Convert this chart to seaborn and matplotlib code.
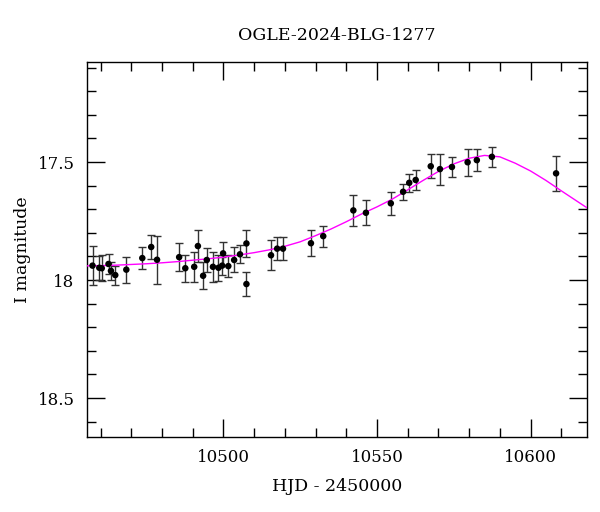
import numpy as np
import pandas as pd
import seaborn as sns
import matplotlib.pyplot as plt
from matplotlib.ticker import MultipleLocator

# observed photometry (HJD - 2450000, I mag, error)
hjd = [10457.4, 10459.6, 10460.4, 10462.6, 10463.4, 10464.8, 10468.4, 10473.6,
       10476.5, 10478.4, 10485.6, 10487.6, 10490.5, 10491.7, 10493.4, 10494.6,
       10496.6, 10498.4, 10499.9, 10499.6, 10501.6, 10503.5, 10505.4, 10507.5,
       10507.5, 10515.5, 10517.5, 10519.4, 10528.5, 10532.5, 10542.3, 10546.4,
       10554.5, 10558.5, 10560.5, 10562.6, 10567.5, 10570.5, 10574.4, 10579.5,
       10582.5, 10587.4, 10608.3]
mag = [17.939, 17.948, 17.950, 17.932, 17.961, 17.979, 17.956, 17.907,
       17.860, 17.914, 17.903, 17.950, 17.944, 17.856, 17.982, 17.915,
       17.944, 17.948, 17.887, 17.939, 17.941, 17.915, 17.891, 17.845,
       18.017, 17.895, 17.867, 17.867, 17.844, 17.814, 17.705, 17.715,
       17.675, 17.626, 17.588, 17.576, 17.518, 17.530, 17.521, 17.501,
       17.492, 17.478, 17.548]
err = [0.083, 0.050, 0.056, 0.042, 0.039, 0.040, 0.055, 0.048,
       0.050, 0.102, 0.058, 0.058, 0.064, 0.066, 0.058, 0.050,
       0.064, 0.056, 0.048, 0.038, 0.047, 0.053, 0.038, 0.059,
       0.051, 0.064, 0.050, 0.048, 0.056, 0.044, 0.065, 0.053,
       0.049, 0.035, 0.037, 0.042, 0.050, 0.066, 0.041, 0.058,
       0.048, 0.041, 0.073]

# model curve
model_hjd = [10455, 10460, 10465, 10470, 10475, 10480, 10485, 10490, 10495,
             10500, 10505, 10510, 10515, 10520, 10525, 10530, 10535, 10540,
             10545, 10550, 10555, 10560, 10565, 10570, 10575, 10580, 10585,
             10590, 10595, 10600, 10605, 10610, 10615, 10620]
model_mag = [17.940, 17.939, 17.937, 17.934, 17.931, 17.927, 17.922, 17.916,
             17.910, 17.903, 17.894, 17.884, 17.872, 17.857, 17.838, 17.812,
             17.784, 17.753, 17.720, 17.690, 17.657, 17.618, 17.578, 17.540,
             17.508, 17.484, 17.472, 17.478, 17.505, 17.538, 17.578, 17.622,
             17.665, 17.708]

obs = pd.DataFrame({'hjd': hjd, 'mag': mag, 'err': err})
model = pd.DataFrame({'hjd': model_hjd, 'mag': model_mag})

sns.set_style('ticks')
plt.rcParams['font.family'] = ['DejaVu Serif']
plt.rcParams['text.color'] = 'black'
plt.rcParams['axes.labelcolor'] = 'black'
plt.rcParams['xtick.color'] = 'black'
plt.rcParams['ytick.color'] = 'black'

fig = plt.figure(figsize=(6, 5.12), dpi=100)
ax = fig.add_axes([0.145, 0.1465, 0.833, 0.7325])

sns.lineplot(data=model, x='hjd', y='mag', color='#ff00ff', lw=1, ax=ax, zorder=3)
ax.errorbar(obs['hjd'], obs['mag'], yerr=obs['err'], fmt='none', ecolor='#333333',
            elinewidth=1, capsize=3, capthick=1, zorder=2)
sns.scatterplot(data=obs, x='hjd', y='mag', color='black', s=22, edgecolor='none',
                ax=ax, zorder=4)

ax.set_xlim(10455.6, 10618.3)
ax.set_ylim(18.665, 17.076)
ax.xaxis.set_major_locator(MultipleLocator(50))
ax.xaxis.set_minor_locator(MultipleLocator(10))
ax.yaxis.set_minor_locator(MultipleLocator(0.1))
ax.set_yticks([17.5, 18, 18.5])
ax.set_yticklabels(['17.5', '18', '18.5'])
ax.tick_params(which='both', direction='in', top=True, right=True, width=1,
               labelsize=12, pad=9)
ax.tick_params(which='major', length=13)
ax.tick_params(which='minor', length=6.5)
for s in ax.spines.values():
    s.set_linewidth(1)
    s.set_color('black')

ax.set_xlabel('HJD - 2450000', fontsize=12.5, labelpad=8)
ax.set_ylabel('I magnitude', fontsize=12.5, labelpad=5)
ax.set_title('OGLE-2024-BLG-1277', fontsize=12.5, pad=16)

fig.savefig('out.png', dpi=100)
